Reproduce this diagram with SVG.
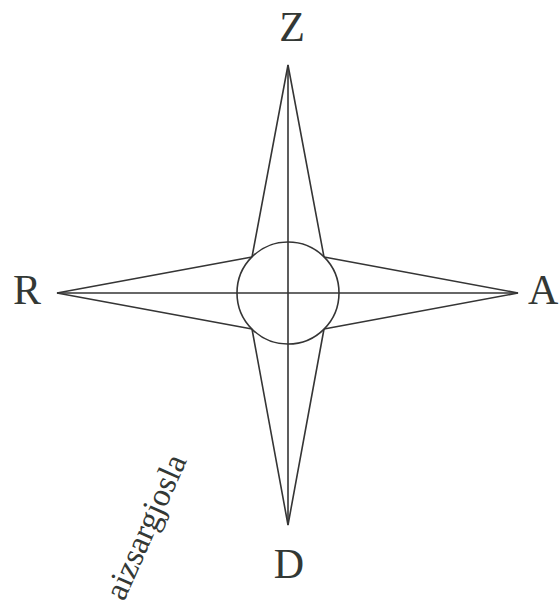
<svg xmlns="http://www.w3.org/2000/svg" width="559" height="605" viewBox="0 0 559 605">
<style>
.ln{fill:none;stroke:#353535;stroke-width:1.6;stroke-linejoin:miter}
.lbl{font-family:"Liberation Serif","DejaVu Serif",serif;fill:#333835;font-size:42px}
.note{font-family:"Liberation Serif","DejaVu Serif",serif;fill:#333835;font-size:33px}
</style>
<rect width="559" height="605" fill="#ffffff"/>
<g id="connectors">
<polyline class="ln" points="252,257 288,65 324,257"/>
<polyline class="ln" points="252,329 288,525 324,329"/>
<polyline class="ln" points="252,257 57,293 252,329"/>
<polyline class="ln" points="324,257 518,293 324,329"/>
<line class="ln" x1="288" y1="65" x2="288" y2="525"/>
<line class="ln" x1="57" y1="293" x2="518" y2="293"/>
</g>
<g id="center-circle">
<circle class="ln" cx="288" cy="293" r="51"/>
</g>
<g id="label-Z"><text class="lbl" x="292" y="41" text-anchor="middle">Z</text></g>
<g id="label-R"><text class="lbl" x="13" y="304">R</text></g>
<g id="label-A"><text class="lbl" x="528" y="304">A</text></g>
<g id="label-D"><text class="lbl" x="289" y="578" text-anchor="middle">D</text></g>
<g id="label-aizsargjosla"><text class="note" transform="translate(124,602) rotate(-66)">aizsargjosla</text></g>
</svg>
